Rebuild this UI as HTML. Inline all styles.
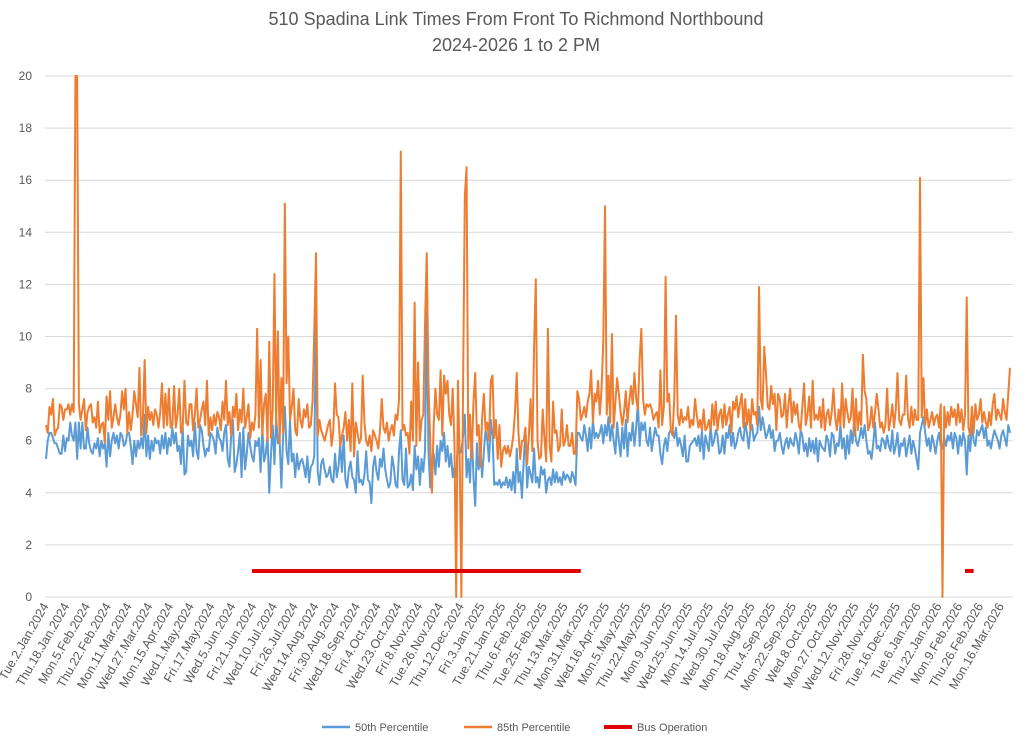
<!DOCTYPE html>
<html><head><meta charset="utf-8"><style>
body{margin:0;background:#fff;}
svg{display:block;font-family:"Liberation Sans",sans-serif;}
</style></head><body>
<svg id="chart" width="1024" height="739" viewBox="0 0 1024 739">
<text x="516" y="25" text-anchor="middle" font-size="18" fill="#595959">510 Spadina Link Times From Front To Richmond Northbound</text>
<text x="516" y="51" text-anchor="middle" font-size="18" fill="#595959">2024-2026 1 to 2 PM</text>
<g id="grid"></g>
<g id="ylab"></g>
<g id="xlab"></g>
<g id="series"></g>
<g>
<g><line x1="322" y1="727" x2="350" y2="727" stroke="#5b9bd5" stroke-width="2.5"/><text x="355" y="731" font-size="11" fill="#595959">50th Percentile</text></g>
<g><line x1="464" y1="727" x2="492" y2="727" stroke="#ed7d31" stroke-width="2.5"/><text x="497" y="731" font-size="11" fill="#595959">85th Percentile</text></g>
<g><line x1="604" y1="727" x2="632" y2="727" stroke="#e00000" stroke-width="4"/><text x="637" y="731" font-size="11" fill="#595959">Bus Operation</text></g>
</g>
</svg>
<script>
const xLabels=["Tue.2.Jan.2024","Thu.18.Jan.2024","Mon.5.Feb.2024","Thu.22.Feb.2024","Mon.11.Mar.2024","Wed.27.Mar.2024","Mon.15.Apr.2024","Wed.1.May.2024","Fri.17.May.2024","Wed.5.Jun.2024","Fri.21.Jun.2024","Wed.10.Jul.2024","Fri.26.Jul.2024","Wed.14.Aug.2024","Fri.30.Aug.2024","Wed.18.Sep.2024","Fri.4.Oct.2024","Wed.23.Oct.2024","Fri.8.Nov.2024","Tue.26.Nov.2024","Thu.12.Dec.2024","Fri.3.Jan.2025","Tue.21.Jan.2025","Thu.6.Feb.2025","Tue.25.Feb.2025","Thu.13.Mar.2025","Mon.31.Mar.2025","Wed.16.Apr.2025","Mon.5.May.2025","Thu.22.May.2025","Mon.9.Jun.2025","Wed.25.Jun.2025","Mon.14.Jul.2025","Wed.30.Jul.2025","Mon.18.Aug.2025","Thu.4.Sep.2025","Mon.22.Sep.2025","Wed.8.Oct.2025","Mon.27.Oct.2025","Wed.12.Nov.2025","Fri.28.Nov.2025","Tue.16.Dec.2025","Tue.6.Jan.2026","Thu.22.Jan.2026","Mon.9.Feb.2026","Thu.26.Feb.2026","Mon.16.Mar.2026"];
const labelEvery=12;
const yTicks=[0,2,4,6,8,10,12,14,16,18,20];
const p85=[6.6,6.3,7.3,7.0,7.6,6.2,6.4,6.5,7.4,7.3,6.8,7.2,7.2,7.4,7.0,7.4,7.1,20,20,7.4,
6.8,7.2,7.6,6.4,7.1,7.3,7.4,6.7,6.9,6.5,7.5,6.3,6.6,6.7,5.9,7.7,6.8,7.9,6.5,6.9,
7.4,6.9,6.6,7.0,7.9,7.2,8.0,6.3,7.1,6.4,7.0,7.9,7.4,6.9,8.8,6.2,6.9,9.1,6.3,7.3,
6.8,7.1,6.6,7.2,7.0,6.5,7.1,8.2,6.5,7.8,6.6,8.0,6.5,6.6,8.1,6.5,7.0,8.0,6.3,6.5,
8.3,6.7,6.6,7.4,7.4,6.4,7.0,8.0,6.5,6.8,7.2,7.5,6.6,8.3,6.2,6.9,6.4,7.0,6.6,7.1,
6.9,6.4,7.5,6.8,8.3,6.6,7.1,6.2,7.3,6.9,7.8,6.4,7.2,6.7,8.0,6.5,6.9,7.4,6.1,6.7,
6.4,7.0,10.3,6.5,9.1,6.2,7.4,7.8,6.0,9.8,6.1,7.2,12.4,6.6,10.2,5.9,8.4,6.3,15.1,8.2,
10.0,6.8,7.3,8.0,6.4,6.2,7.6,6.8,6.5,7.2,6.9,7.4,6.5,6.6,7.5,10.2,13.2,6.2,6.8,6.4,
6.2,6.0,6.3,6.6,6.8,5.8,6.4,8.2,7.0,6.9,5.8,6.2,6.5,7.1,6.0,6.8,5.6,8.2,5.4,6.7,
6.3,5.9,6.1,8.5,6.7,6.0,5.8,6.2,5.6,6.4,6.2,6.0,5.7,6.4,7.6,6.5,6.3,6.7,6.0,6.4,
6.6,6.2,7.0,6.8,7.6,17.1,6.4,6.6,6.2,6.3,5.5,7.5,6.0,11.3,5.8,9.0,6.0,6.8,7.0,10.5,
13.2,8.2,6.0,4.0,6.6,8.0,7.0,6.8,8.7,6.2,8.5,7.8,8.3,7.0,6.6,8.0,5.9,0,8.3,5.5,
0,8.2,15.4,16.5,5.7,7.0,5.3,7.5,8.6,6.2,6.6,5.0,6.9,7.8,6.4,6.7,6.0,8.3,8.5,6.1,
6.8,5.3,6.6,5.0,5.6,5.8,5.5,5.8,5.4,5.7,6.2,7.1,8.6,6.3,5.3,6.0,6.0,6.5,5.1,6.2,
7.6,5.6,9.6,12.2,6.0,5.3,5.4,7.2,6.1,5.2,10.3,5.8,5.2,7.5,6.3,6.4,5.6,5.8,7.2,5.8,
6.0,6.6,5.8,5.8,6.3,5.5,5.5,7.9,7.6,6.8,7.0,7.3,6.9,7.5,7.8,8.7,6.7,7.8,7.5,8.3,
7.0,8.0,9.8,15.0,7.0,8.5,6.7,10.1,6.5,7.5,8.4,7.8,7.1,6.6,7.1,7.9,6.7,7.5,8.1,7.4,
8.6,7.6,7.2,9.1,10.3,7.6,7.0,7.4,7.3,7.4,7.2,6.8,7.0,7.1,6.5,8.7,6.6,7.3,12.3,7.5,
7.8,6.4,6.2,7.6,10.8,7.0,6.6,7.2,6.7,6.9,6.8,7.3,6.5,6.8,6.6,7.6,7.0,6.5,6.8,6.4,
7.2,6.4,6.5,6.8,6.4,7.4,6.6,7.5,6.4,7.0,7.2,6.5,7.4,6.6,7.0,7.3,6.3,7.5,7.2,7.7,
6.9,7.4,7.8,6.5,7.6,6.6,7.2,6.4,7.6,7.0,7.1,6.6,11.9,7.6,7.2,9.6,8.6,7.3,7.2,8.1,
7.4,7.8,6.4,7.8,7.6,6.9,7.0,7.8,6.5,7.4,8.0,6.7,7.5,7.0,7.4,6.6,6.4,7.3,8.2,6.6,
7.0,7.7,6.5,8.3,6.8,7.0,6.8,7.3,6.5,7.6,6.4,7.0,7.2,6.6,7.1,8.0,6.9,6.4,7.2,6.6,
8.2,6.5,7.6,7.1,6.7,6.9,8.0,6.2,7.6,6.4,7.1,6.6,9.3,7.9,7.6,6.4,6.6,7.3,6.5,7.1,
7.8,7.2,6.5,6.7,6.3,6.6,8.0,6.4,6.8,7.4,6.5,7.2,8.6,6.8,6.6,7.0,7.0,8.5,6.9,6.5,
7.3,6.6,7.2,6.8,6.8,16.1,6.9,8.4,6.6,7.2,6.5,6.8,7.1,6.6,6.9,7.0,6.5,7.4,0,7.3,
6.5,7.1,6.6,7.3,6.9,7.2,6.6,7.4,6.7,7.2,6.4,7.0,11.5,6.5,6.2,7.3,6.3,7.4,6.8,7.0,
7.6,6.7,7.1,6.7,6.5,7.1,6.6,7.4,7.8,6.8,7.2,7.0,6.8,7.6,7.1,6.8,7.8,8.8];
const p50=[5.3,6.0,6.3,6.3,6.1,5.9,5.9,5.7,5.5,5.5,6.2,5.6,6.1,6.0,6.7,6.2,6.0,6.7,5.3,6.7,
5.7,6.7,5.7,5.7,6.5,5.9,5.6,5.5,5.9,5.7,6.1,5.4,6.0,5.7,5.9,5.0,6.3,5.4,6.0,6.3,
5.9,6.2,5.7,6.3,6.2,5.8,5.9,6.3,6.3,5.8,5.1,6.0,5.4,6.0,5.7,6.1,5.7,7.0,5.4,6.2,
5.3,6.0,5.6,6.1,5.9,6.0,5.5,6.2,5.7,6.3,5.5,6.1,5.8,6.5,5.9,6.3,5.6,5.8,5.1,6.5,
4.7,4.8,6.2,5.8,6.0,5.4,6.7,5.6,5.3,6.6,6.4,5.8,5.4,5.7,5.6,6.3,6.2,6.0,5.5,6.5,
6.1,6.0,5.6,6.3,6.6,5.3,5.0,6.2,6.8,4.8,5.1,5.6,6.3,4.6,6.5,4.9,5.5,6.3,5.8,5.4,
5.2,6.0,5.8,6.1,4.8,6.5,5.2,5.5,6.2,4.0,5.5,6.6,5.1,6.9,5.9,6.0,4.2,6.2,7.3,5.6,
5.1,6.8,5.2,5.5,4.6,5.5,4.9,5.2,5.3,5.0,4.6,5.4,4.4,5.0,5.1,5.4,10.7,4.8,4.3,5.1,
5.3,4.9,4.6,4.7,5.0,4.5,4.4,5.5,4.6,5.0,5.9,4.8,6.2,4.5,4.2,4.9,5.2,4.6,4.5,4.0,
5.6,4.4,4.5,4.3,4.7,5.6,4.5,4.4,3.6,5.0,5.4,4.8,4.5,5.3,5.0,5.7,4.9,4.5,4.2,4.4,
5.4,5.0,4.3,4.2,5.6,6.4,4.5,4.3,5.7,4.2,4.3,4.7,4.1,5.8,4.9,5.4,4.3,5.3,4.8,5.6,
11.0,5.6,4.2,4.9,5.5,4.7,5.8,5.0,6.0,5.6,6.3,5.2,5.8,5.0,5.5,4.6,5.0,4.6,6.0,5.5,
5.6,6.2,7.0,4.6,5.3,4.4,6.4,4.6,3.5,5.9,4.9,5.6,4.6,5.6,6.4,6.0,5.2,6.8,6.2,4.3,
4.4,4.3,4.5,4.2,4.4,4.3,4.6,4.2,4.5,4.1,4.8,4.0,5.7,4.4,4.8,3.8,5.2,6.4,4.2,5.0,
4.7,4.4,5.7,4.4,4.6,4.2,5.0,4.7,4.9,4.0,4.5,4.6,4.3,4.9,4.4,4.8,4.4,4.6,4.3,4.8,
4.5,4.7,4.6,4.4,4.8,4.6,4.3,6.3,6.3,6.1,6.0,6.6,6.2,5.6,6.5,5.7,6.8,6.1,6.3,6.1,
6.3,6.6,5.9,6.6,6.2,6.9,6.0,6.6,6.0,5.5,6.7,6.0,5.4,6.5,5.7,6.8,5.4,6.3,6.0,6.7,
5.8,6.5,7.5,5.8,6.7,6.4,6.7,6.0,5.8,6.5,5.6,6.1,6.5,6.2,6.2,5.5,5.1,5.8,6.1,5.6,
6.3,6.4,6.4,6.1,6.5,5.8,6.1,5.8,5.4,6.2,5.2,5.2,5.8,5.9,6.0,6.1,5.8,6.2,5.6,6.4,
5.3,6.2,5.9,5.6,6.6,5.8,6.0,6.4,6.2,5.5,5.6,6.2,5.5,6.3,6.1,6.6,5.8,6.3,5.7,5.9,
6.3,6.5,6.1,6.0,6.7,6.3,5.7,6.4,6.6,6.0,6.2,6.3,7.3,6.4,6.9,6.5,6.1,6.3,6.6,6.1,
6.4,5.6,6.0,6.0,6.3,5.8,5.5,5.9,6.1,5.7,6.1,5.9,5.8,6.3,6.0,5.5,6.4,6.2,5.6,5.9,
5.4,6.1,5.6,6.0,5.5,6.1,5.2,6.0,5.8,5.7,5.6,6.2,6.0,5.4,6.3,6.2,5.5,5.9,5.8,6.6,
5.7,6.1,5.3,6.2,5.5,6.4,5.9,6.8,6.0,5.8,6.1,6.5,6.1,6.6,6.0,5.5,5.6,5.3,5.9,6.7,
5.7,5.8,5.6,6.1,6.0,5.7,6.2,5.8,5.6,6.4,5.5,5.8,6.3,5.4,5.9,5.8,6.1,5.4,5.8,6.2,
5.5,6.0,5.7,5.3,4.9,6.3,6.6,6.9,6.3,5.8,6.1,5.6,6.2,5.9,5.5,6.0,6.3,5.8,5.7,6.1,
5.8,6.2,6.0,6.3,5.7,6.3,6.1,5.5,6.2,5.8,6.3,6.0,4.7,6.2,5.6,6.6,6.0,5.8,6.4,6.2,
6.4,6.6,6.1,6.5,5.8,6.0,5.7,6.1,6.4,6.2,6.0,5.7,6.2,6.4,6.1,5.8,6.6,6.3];
const busStart=[119,531];
const busEnd=[309,536];
const busValue=[1,1];

const NS="http://www.w3.org/2000/svg";
const L=45,R=1013,X0=46,X1=1010,Y0=597,Y20=76,YMAX=20;
const n=p85.length;
function xs(i){return X0+i*(X1-X0)/(n-1);}
function ys(v){return Y0-v*(Y0-Y20)/YMAX;}
function mk(tag,attrs,parent){const e=document.createElementNS(NS,tag);for(const k in attrs)e.setAttribute(k,attrs[k]);parent.appendChild(e);return e;}
const grid=document.getElementById('grid'),ylab=document.getElementById('ylab'),xlab=document.getElementById('xlab'),series=document.getElementById('series');
yTicks.forEach(t=>{
  const g=mk('line',{x1:L,x2:R,y1:ys(t),y2:ys(t),stroke:'#d9d9d9','stroke-width':1},grid);
  
  
  const tx=mk('text',{x:32,y:ys(t)+4,'text-anchor':'end','font-size':12,fill:'#595959'},ylab);
  
  
  tx.textContent=t;
});
xLabels.forEach((s,k)=>{
  const x=xs(k*labelEvery)+3,y=606;
  const tx=mk('text',{x:x,y:y,'text-anchor':'end','font-size':12.5,fill:'#595959',transform:`rotate(-60 ${x} ${y})`},xlab);
  
  
  tx.textContent=s;
});
function line(arr,color,name){
  const d=arr.map((v,i)=>(i?'L':'M')+xs(i).toFixed(2)+' '+ys(v).toFixed(2)).join(' ');
  const p=mk('path',{d:d,fill:'none',stroke:color,'stroke-width':2,'stroke-linejoin':'round'},series);
  
  
}
line(p50,'#5b9bd5','line-50th-percentile');
line(p85,'#ed7d31','line-85th-percentile');
busStart.forEach((s,k)=>{
  const b=mk('line',{x1:xs(s),x2:xs(busEnd[k]),y1:ys(busValue[k]),y2:ys(busValue[k]),stroke:'#e00000','stroke-width':4},series);
  
  
});
</script>
</body></html>
